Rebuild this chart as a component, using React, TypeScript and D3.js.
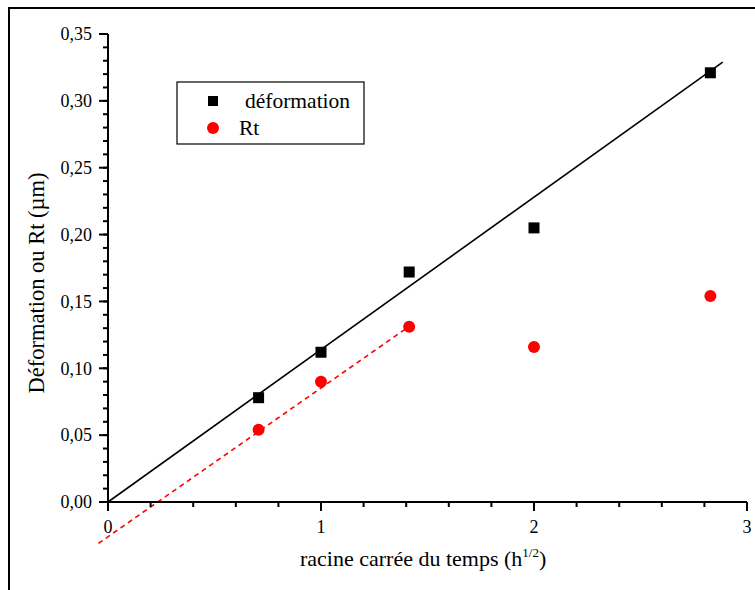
import React from 'react';
import * as d3 from 'd3';

const timeRoot = [0.707, 1, 1.414, 2, 2.828];
const deformation = [0.078, 0.112, 0.172, 0.205, 0.321];
const rt = [0.054, 0.09, 0.131, 0.116, 0.154];
const deformFitX = [0, 2.886];
const deformFitY = [0, 0.329];
const rtFitX = [-0.045, 1.42];
const rtFitY = [-0.031, 0.132];
const xTicks = [0, 1, 2, 3];
const yTicks = [0, 0.05, 0.1, 0.15, 0.2, 0.25, 0.3, 0.35];
const legendLabels = ['déformation', 'Rt'];

const W = 755;
const H = 590;
const FONT = "'Liberation Serif', 'Times New Roman', serif";

export default function App() {
  const x = d3.scaleLinear().domain([0, 3]).range([108, 747]);
  const y = d3.scaleLinear().domain([0, 0.35]).range([502, 34]);
  const xMinor = d3.range(0, 3.0001, 0.2);
  const yMinor = d3.range(0, 0.35001, 0.01);
  const fmt = (v: number) => d3.format('.2f')(v).replace('.', ',');
  const line = d3.line<[number, number]>().x(d => x(d[0])).y(d => y(d[1]));
  const defPts: [number, number][] = deformFitX.map((v, i) => [v, deformFitY[i]]);
  const rtPts: [number, number][] = rtFitX.map((v, i) => [v, rtFitY[i]]);
  const sq = 11;
  const r = 6;

  return (
    <svg width={W} height={H} style={{ position: 'absolute', left: 0, top: 0, background: '#fff', fontFamily: FONT }}>
      <rect x={0} y={0} width={W} height={H} fill="#fff" />
      <rect x={9} y={8} width={800} height={700} fill="none" stroke="#000" strokeWidth={2} />

      {/* fit lines */}
      <path d={line(defPts) || ''} fill="none" stroke="#000" strokeWidth={1.6} />
      <path d={line(rtPts) || ''} fill="none" stroke="#ff0000" strokeWidth={1.6} strokeDasharray="5,4" />

      {/* x axis */}
      <line x1={x(0)} x2={x(3)} y1={y(0)} y2={y(0)} stroke="#000" strokeWidth={2} />
      {xMinor.map((t, i) => (
        <line key={'xm' + i} x1={x(t)} x2={x(t)} y1={y(0)} y2={y(0) + 5} stroke="#000" strokeWidth={2} />
      ))}
      {xTicks.map(t => (
        <g key={'xt' + t}>
          <line x1={x(t)} x2={x(t)} y1={y(0)} y2={y(0) + 9} stroke="#000" strokeWidth={2} />
          <text x={x(t)} y={533} textAnchor="middle" fontSize={18} fontFamily={FONT}>{t}</text>
        </g>
      ))}

      {/* y axis */}
      <line x1={x(0)} x2={x(0)} y1={y(0)} y2={y(0.35)} stroke="#000" strokeWidth={2} />
      {yMinor.map((t, i) => (
        <line key={'ym' + i} x1={x(0) - 5} x2={x(0)} y1={y(t)} y2={y(t)} stroke="#000" strokeWidth={2} />
      ))}
      {yTicks.map(t => (
        <g key={'yt' + t}>
          <line x1={x(0) - 9} x2={x(0)} y1={y(t)} y2={y(t)} stroke="#000" strokeWidth={2} />
          <text x={92} y={y(t)} dy="0.35em" textAnchor="end" fontSize={18} fontFamily={FONT}>{fmt(t)}</text>
        </g>
      ))}

      {/* axis titles */}
      <text x={300} y={566} fontSize={22} fontFamily={FONT}>
        racine carrée du temps (h<tspan dy={-9} fontSize={13}>1/2</tspan><tspan dy={9}>)</tspan>
      </text>
      <text transform={`translate(44, 283) rotate(-90)`} textAnchor="middle" fontSize={22.5} fontFamily={FONT}>
        Déformation ou Rt (µm)
      </text>

      {/* data points */}
      {timeRoot.map((t, i) => (
        <rect key={'d' + i} x={x(t) - sq / 2} y={y(deformation[i]) - sq / 2} width={sq} height={sq} fill="#000" />
      ))}
      {timeRoot.map((t, i) => (
        <circle key={'r' + i} cx={x(t)} cy={y(rt[i])} r={r} fill="#ff0000" />
      ))}

      {/* legend */}
      <rect x={177} y={82} width={187} height={62} fill="#fff" stroke="#000" strokeWidth={1.2} />
      <rect x={213 - 5} y={101 - 5} width={10} height={10} fill="#000" />
      <circle cx={213} cy={128} r={6} fill="#ff0000" />
      <text x={245} y={108} fontSize={21.5} fontFamily={FONT}>{legendLabels[0]}</text>
      <text x={239} y={135} fontSize={21.5} fontFamily={FONT}>{legendLabels[1]}</text>
    </svg>
  );
}
